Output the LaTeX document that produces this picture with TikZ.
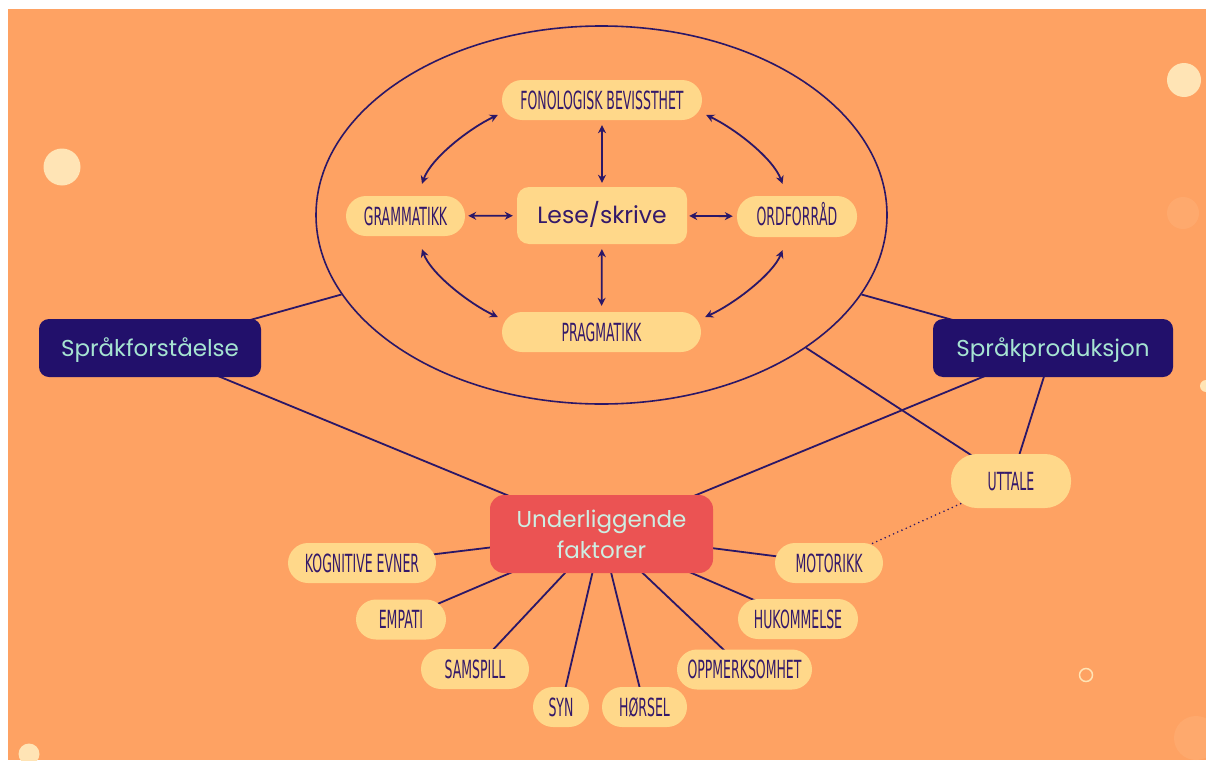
\documentclass[tikz,border=0pt]{standalone}
\usepackage{fontspec}
\setmainfont{Poppins}
\newfontfamily\capsfont[FakeStretch=0.5]{DejaVu Sans}
\usetikzlibrary{arrows.meta,backgrounds,shapes.geometric,calc}
\definecolor{bgc}{HTML}{FEA263}
\definecolor{pale}{HTML}{FFD88A}
\definecolor{navy}{HTML}{22106B}
\definecolor{mint}{HTML}{A6E4D2}
\definecolor{redc}{HTML}{EB5353}
\definecolor{redtext}{HTML}{CDEFE3}
\definecolor{captext}{HTML}{34196A}
\definecolor{linec}{HTML}{2B1767}
\definecolor{dotc}{HTML}{FFE4B5}
\definecolor{faint}{HTML}{FEA96D}
\begin{document}
\begin{tikzpicture}[x=1pt,y=-1pt,
  pill/.style={fill=pale, rounded corners=20pt, minimum height=40pt, inner sep=0pt,
    text=captext, font=\capsfont\fontsize{25}{30}\selectfont, text height=18pt, text depth=0pt},
  darkbox/.style={fill=navy, rounded corners=10pt, minimum height=58pt, inner sep=0pt,
    text=mint, font=\fontsize{23}{28}\selectfont, text height=16.5pt, text depth=0pt},
  link/.style={draw=linec, line width=1.8pt},
  arr/.style={draw=linec, line width=1.8pt, {Stealth[length=8pt,width=8pt]}-{Stealth[length=8pt,width=8pt]}},
]
\useasboundingbox (0,0) rectangle (1206,760);
\begin{scope}[on background layer]
  \fill[white] (0,0) rectangle (1206,760);
  \fill[bgc] (8,9) rectangle (1206,760);
  \begin{scope}
    \clip (8,9) rectangle (1206,760);
    \fill[dotc] (62,167) circle (18.5pt);
    \fill[dotc] (1184,80) circle (17pt);
    \fill[dotc] (29,754) circle (10.5pt);
    \fill[dotc] (1206,386) circle (6pt);
    \fill[faint] (1183,213) circle (16pt);
    \fill[faint] (1196,738) circle (22pt);
    \draw[dotc, line width=1.5pt] (1086,675) circle (6.5pt);
  \end{scope}
\end{scope}

% ellipse
\node[ellipse, draw=linec, line width=1.6pt, minimum width=571pt, minimum height=378pt, inner sep=0pt] (ell) at (601.5,215) {};

% inner nodes
\node[pill, minimum width=200pt] (fon) at (602,100) {FONOLOGISK BEVISSTHET};
\node[pill, minimum width=119pt] (gram) at (405.5,216) {GRAMMATIKK};
\node[pill, minimum width=120pt, minimum height=41pt] (ord) at (797,216.5) {ORDFORRÅD};
\node[pill, minimum width=199pt] (prag) at (601.5,332) {PRAGMATIKK};
\node[fill=pale, rounded corners=12pt, minimum width=170pt, minimum height=57pt, inner sep=0pt,
  text=captext, font=\fontsize{23.5}{28}\selectfont, text height=16.5pt, text depth=0pt] (lese) at (602,215.5) {Lese/skrive};

% main boxes
\node[darkbox, minimum width=222pt] (sf) at (150,348) {Språkforståelse};
\node[darkbox, minimum width=240pt] (sp) at (1053,348) {Språkproduksjon};
\node[fill=redc, rounded corners=14pt, minimum width=223pt, minimum height=78pt, inner sep=0pt,
  text=redtext, align=center, font=\fontsize{23}{31}\selectfont] (uf) at (601.5,534) {Underliggende\\faktorer};
\node[pill, minimum width=120pt, minimum height=54pt, rounded corners=26pt] (utt) at (1011,481) {UTTALE};

% factors
\node[pill, minimum width=148pt] (kog) at (362,563) {KOGNITIVE EVNER};
\node[pill, minimum width=90pt] (emp) at (401,619.5) {EMPATI};
\node[pill, minimum width=108pt] (sam) at (475,669) {SAMSPILL};
\node[pill, minimum width=56pt] (syn) at (561,707) {SYN};
\node[pill, minimum width=85pt] (hor) at (644.5,707) {HØRSEL};
\node[pill, minimum width=135pt] (opp) at (744.5,669.5) {OPPMERKSOMHET};
\node[pill, minimum width=120pt] (huk) at (798,619) {HUKOMMELSE};
\node[pill, minimum width=108pt] (mot) at (829,563) {MOTORIKK};

% connectors behind nodes
\begin{scope}[on background layer]
  \draw[link] (sf.center) -- (ell.197);
  \draw[link] (sp.center) -- (ell.-17);
  \draw[link] (ell.-33) -- (utt.center);
  \draw[link] (sf.center) -- (uf.center);
  \draw[link] (sp.center) -- (uf.center);
  \draw[link] (sp.center) -- (utt.center);
  \draw[draw=linec, line width=1.8pt, line cap=round, dash pattern=on 0pt off 4.6pt] (utt.center) -- (mot.center);
  \foreach \n in {kog,emp,sam,syn,hor,opp,huk,mot}
    \draw[link] (uf.center) -- (\n.center);
\end{scope}

% arrows
\draw[arr, shorten <=5pt, shorten >=4pt] (fon) -- (lese);
\draw[arr, shorten <=5pt, shorten >=6pt] (lese) -- (prag);
\draw[arr, shorten <=3pt, shorten >=4pt] (gram) -- (lese);
\draw[arr, shorten <=2pt, shorten >=4pt] (lese) -- (ord);
\draw[arr] ($(fon.west)+(-4,15)$) .. controls (470,128) and (431,158) .. ($(gram.north)+(16.5,-12)$);
\draw[arr] ($(fon.east)+(4,15)$) .. controls (734,128) and (773,158) .. ($(ord.north)+(-14.5,-12)$);
\draw[arr] ($(gram.south)+(16.5,13)$) .. controls (431,274) and (470,304) .. ($(prag.west)+(-4,-15)$);
\draw[arr] ($(ord.south)+(-14.5,13)$) .. controls (773,274) and (734,304) .. ($(prag.east)+(4,-15)$);
\end{tikzpicture}
\end{document}
